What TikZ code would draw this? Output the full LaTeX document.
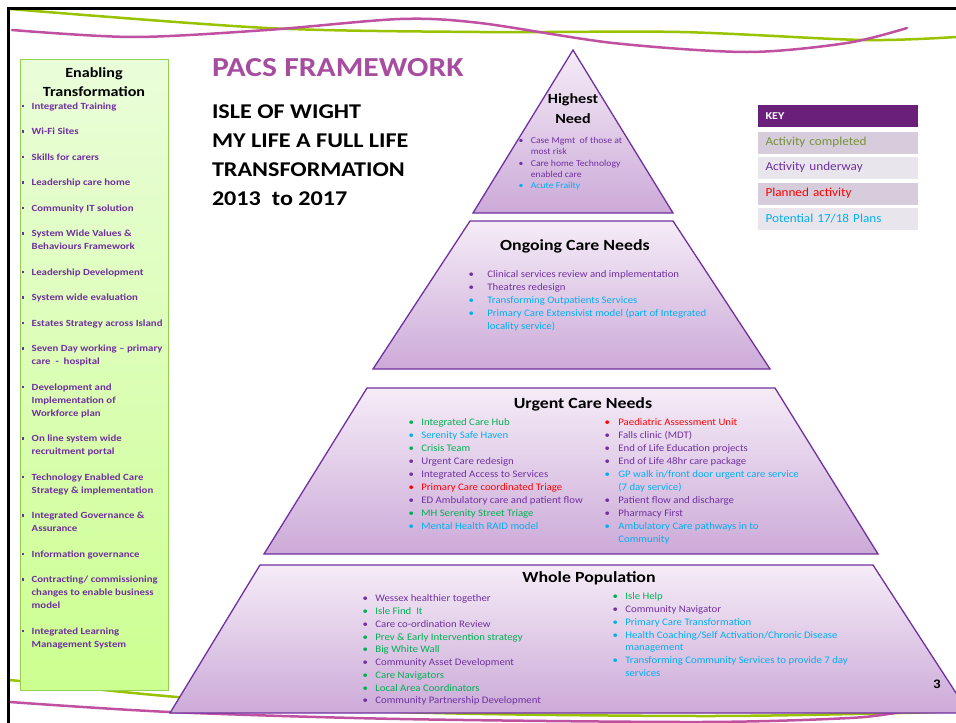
\documentclass[tikz,border=0pt]{standalone}
\usepackage{fontspec}
\setmainfont{Carlito}[FakeStretch=1.08,BoldFeatures={FakeStretch=1.15}]
\definecolor{pgreen}{RGB}{0,176,80}
\definecolor{pcyan}{RGB}{0,176,240}
\definecolor{pred}{RGB}{255,0,0}
\definecolor{ppurple}{RGB}{112,48,160}
\definecolor{kgreen}{RGB}{119,147,60}
\definecolor{titlepink}{RGB}{166,77,160}
\definecolor{swpink}{RGB}{192,80,160}
\definecolor{swgreen}{RGB}{153,194,0}
\definecolor{keyhead}{RGB}{106,31,122}
\definecolor{keydark}{RGB}{214,204,219}
\definecolor{keylight}{RGB}{233,229,236}
\definecolor{tiertop}{RGB}{245,236,247}
\definecolor{tierbot}{RGB}{204,170,216}
\definecolor{paneltop}{RGB}{234,253,218}
\definecolor{panelbot}{RGB}{204,255,144}
\definecolor{panelline}{RGB}{146,208,80}
\newcommand{\pitem}[2]{\textcolor{#1}{\textbullet}&\textcolor{#1}{#2}\\}
\newcommand{\pmore}[2]{&\textcolor{#1}{#2}\\}
\newcommand{\sqb}{\raisebox{2pt}{\rule{2.2pt}{2.2pt}}}
\begin{document}
\begin{tikzpicture}[x=1pt,y=-1pt,inner sep=0pt,outer sep=0pt,
tier/.style={draw=ppurple,line width=1.3pt,top color=tiertop,bottom color=tierbot},
head/.style={font=\fontsize{15.5}{18}\selectfont\bfseries},
plist/.style={anchor=north west,font=\fontsize{10}{13}\selectfont},
keyrow/.style={minimum width=160pt,minimum height=22pt,text width=144pt,inner xsep=8pt,align=left,font=\fontsize{12.2}{13}\selectfont},
swirl/.style={line width=2.5pt,line cap=round}]
\useasboundingbox (0,0) rectangle (956,723);
% swirls and frame
\draw[swirl,swgreen] plot[smooth] coordinates {(10,9) (267,28) (480,32) (680,32) (863,40) (956,37)};
\draw[swirl,swpink] plot[smooth] coordinates {(12,30) (133,37) (267,30) (400,19) (480,23) (613,43) (747,52) (847,43) (907,28)};
\draw[swirl,swgreen] plot[smooth] coordinates {(10,680) (177,697) (400,712) (700,716) (900,713) (956,711)};
\draw[swirl,swpink] plot[smooth] coordinates {(10,702) (170,712) (400,719) (700,722) (850,718) (900,712)};
\draw[line width=3pt] (8.5,723) -- (8.5,8) -- (956,8);

% left panel
\draw[draw=panelline,line width=1pt,top color=paneltop,bottom color=panelbot] (20,59) rectangle (168,690);
\draw (94,82.5) node[align=center,font=\fontsize{14}{19}\selectfont\bfseries] (enab) {Enabling\\Transformation};
\draw (21.5,100) node[plist,font=\fontsize{9.4}{13}\selectfont\bfseries,text=ppurple] (enlist) {%
\begin{tabular}{@{}l@{\hspace{8pt}}l@{}}
\sqb & Integrated Training\\[12.5pt]
\sqb & Wi-Fi Sites\\[12.5pt]
\sqb & Skills for carers\\[12.5pt]
\sqb & Leadership care home\\[12.5pt]
\sqb & Community IT solution\\[12.5pt]
\sqb & System Wide Values \&\\
 & Behaviours Framework\\[12.5pt]
\sqb & Leadership Development\\[12.5pt]
\sqb & System wide evaluation\\[12.5pt]
\sqb & Estates Strategy across Island\\[12.5pt]
\sqb & Seven Day working -- primary\\
 & care \ - \ hospital\\[12.5pt]
\sqb & Development and\\
 & Implementation of\\
 & Workforce plan\\[12.5pt]
\sqb & On line system wide\\
 & recruitment portal\\[12.5pt]
\sqb & Technology Enabled Care\\
 & Strategy \& implementation\\[12.5pt]
\sqb & Integrated Governance \&\\
 & Assurance\\[12.5pt]
\sqb & Information governance\\[12.5pt]
\sqb & Contracting/ commissioning\\
 & changes to enable business\\
 & model\\[12.5pt]
\sqb & Integrated Learning\\
 & Management System\\
\end{tabular}};

% titles
\draw (212,68) node[anchor=west,font=\fontsize{27.5}{30}\selectfont\bfseries,text=titlepink] (pacs) {PACS FRAMEWORK};
\draw (212,104.5) node[anchor=north west,align=left,font=\fontsize{21}{29}\selectfont\bfseries] (iow) {ISLE OF WIGHT\\MY LIFE A FULL LIFE\\TRANSFORMATION\\2013 \ to 2017};

% pyramid
\draw[tier] (573,50) -- (673,213) -- (473,213) -- cycle;
\draw[tier] (470,221) -- (673,221) -- (770,369) -- (373,369) -- cycle;
\draw[tier] (367,388) -- (775,388) -- (878,554) -- (264,554) -- cycle;
\draw[tier] (260,565) -- (873,565) -- (969,713) -- (170,713) -- cycle;

\draw (573,109) node[head,font=\fontsize{14}{20}\selectfont\bfseries,align=center] (high) {Highest\\Need};
\draw (518.5,135.6) node[plist,font=\fontsize{9}{11.3}\selectfont] (highlist) {%
\begin{tabular}{@{}l@{\hspace{7.5pt}}l@{}}
\pitem{ppurple}{Case Mgmt \ of those at}
\pmore{ppurple}{most risk}
\pitem{ppurple}{Care home Technology}
\pmore{ppurple}{enabled care}
\pitem{pcyan}{Acute Frailty}
\end{tabular}};

\draw (575,246) node[head] (ongo) {Ongoing Care Needs};
\draw (468.5,268) node[plist] (ongolist) {%
\begin{tabular}{@{}l@{\hspace{13.5pt}}l@{}}
\pitem{ppurple}{Clinical services review and implementation}
\pitem{ppurple}{Theatres redesign}
\pitem{pcyan}{Transforming Outpatients Services}
\pitem{pcyan}{Primary Care Extensivist model (part of Integrated}
\pmore{pcyan}{locality service)}
\end{tabular}};

\draw (583,404) node[head] (urg) {Urgent Care Needs};
\draw (408.5,416) node[plist] (urgleft) {%
\begin{tabular}{@{}l@{\hspace{7.5pt}}l@{}}
\pitem{pgreen}{Integrated Care Hub}
\pitem{pcyan}{Serenity Safe Haven}
\pitem{pgreen}{Crisis Team}
\pitem{ppurple}{Urgent Care redesign}
\pitem{ppurple}{Integrated Access to Services}
\pitem{pred}{Primary Care coordinated Triage}
\pitem{ppurple}{ED Ambulatory care and patient flow}
\pitem{pgreen}{MH Serenity Street Triage}
\pitem{pcyan}{Mental Health RAID model}
\end{tabular}};
\draw (604.5,416) node[plist] (urgright) {%
\begin{tabular}{@{}l@{\hspace{8.5pt}}l@{}}
\pitem{pred}{Paediatric Assessment Unit}
\pitem{ppurple}{Falls clinic (MDT)}
\pitem{ppurple}{End of Life Education projects}
\pitem{ppurple}{End of Life 48hr care package}
\pitem{pcyan}{GP walk in/front door urgent care service}
\pmore{pcyan}{(7 day service)}
\pitem{ppurple}{Patient flow and discharge}
\pitem{ppurple}{Pharmacy First}
\pitem{pcyan}{Ambulatory Care pathways in to}
\pmore{pcyan}{Community}
\end{tabular}};

\draw (589,578) node[head] (whole) {Whole Population};
\draw (362.5,593) node[plist,font=\fontsize{10}{12.75}\selectfont] (wholeleft) {%
\begin{tabular}{@{}l@{\hspace{7.5pt}}l@{}}
\pitem{ppurple}{Wessex healthier together}
\pitem{pgreen}{Isle Find \ It}
\pitem{ppurple}{Care co-ordination Review}
\pitem{pgreen}{Prev \& Early Intervention strategy}
\pitem{pgreen}{Big White Wall}
\pitem{ppurple}{Community Asset Development}
\pitem{pgreen}{Care Navigators}
\pitem{pgreen}{Local Area Coordinators}
\pitem{ppurple}{Community Partnership Development}
\end{tabular}};
\draw (612.5,591) node[plist,font=\fontsize{10}{12.75}\selectfont] (wholeright) {%
\begin{tabular}{@{}l@{\hspace{7.5pt}}l@{}}
\pitem{pgreen}{Isle Help}
\pitem{ppurple}{Community Navigator}
\pitem{pcyan}{Primary Care Transformation}
\pitem{pcyan}{Health Coaching/Self Activation/Chronic Disease}
\pmore{pcyan}{management}
\pitem{pcyan}{Transforming Community Services to provide 7 day}
\pmore{pcyan}{services}
\end{tabular}};

\draw (937,684) node[font=\fontsize{13}{15}\selectfont\bfseries] (pageno) {3};

% key
\draw (837.5,116) node[keyrow,fill=keyhead,text=white,font=\fontsize{10.5}{12}\selectfont\bfseries] (key) {KEY};
\draw (837.5,142.5) node[keyrow,fill=keydark,text=kgreen] (kdone) {Activity completed};
\draw (837.5,167.5) node[keyrow,fill=keylight,text=ppurple] (kunder) {Activity underway};
\draw (837.5,193.5) node[keyrow,fill=keydark,text=pred] (kplan) {Planned activity};
\draw (837.5,218.5) node[keyrow,fill=keylight,text=pcyan] (kpot) {Potential 17/18 Plans};
\end{tikzpicture}
\end{document}
